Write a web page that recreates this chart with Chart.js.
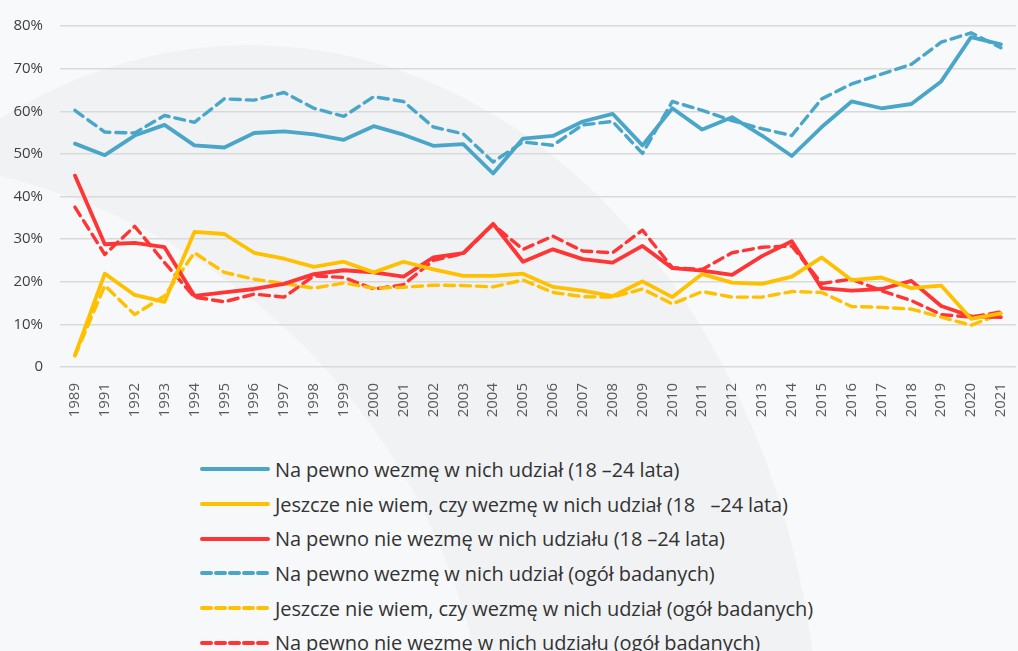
<!DOCTYPE html>
<html>
<head>
<meta charset="utf-8">
<script src="https://cdn.jsdelivr.net/npm/chart.js@4.4.1/dist/chart.umd.min.js"></script>
<style>
  html, body { margin: 0; padding: 0; overflow: hidden; }
  body { width: 1018px; height: 651px; background: #f8f9fa; position: relative; font-family: "Open Sans", sans-serif; }
  #bg { position: absolute; left: 0; top: 0; }
  #wrap { position: absolute; left: 0; top: 0; width: 1035px; height: 432px; }
  #legend { position: absolute; left: 200px; top: 452px; }
  .item { display: flex; align-items: center; height: 34.7px; }
  .item svg { margin-right: 5px; }
  .item span { font-size: 20px; color: #333; white-space: pre; letter-spacing: -0.1px; }
</style>
</head>
<body>
<svg id="bg" width="1018" height="651">
  <ellipse cx="250" cy="770" rx="570" ry="725" fill="#f1f2f4"/>
  <circle cx="-150" cy="800" r="642" fill="#f7f8f9"/>
</svg>
<div id="wrap"><canvas id="myChart"></canvas></div>
<div id="legend"></div>
<script>
const years = ['1989', '1991', '1992', '1993', '1994', '1995', '1996', '1997', '1998', '1999',
  '2000', '2001', '2002', '2003', '2004', '2005', '2006', '2007', '2008', '2009',
  '2010', '2011', '2012', '2013', '2014', '2015', '2016', '2017', '2018', '2019',
  '2020', '2021'];

// 18-24 lata
const youngYes = [52.4, 49.7, 54.3, 56.8, 52.0, 51.5, 54.9, 55.3, 54.6, 53.3,
  56.5, 54.5, 51.9, 52.3, 45.4, 53.6, 54.2, 57.6, 59.4, 52.0,
  60.7, 55.7, 58.6, 54.3, 49.5, 56.3, 62.3, 60.7, 61.7, 67.0,
  77.4, 75.7];
const youngMaybe = [2.8, 21.9, 16.9, 15.3, 31.7, 31.2, 26.8, 25.4, 23.5, 24.7,
  22.2, 24.7, 22.9, 21.4, 21.4, 21.9, 18.8, 17.9, 16.6, 20.1,
  16.4, 21.8, 19.8, 19.5, 21.2, 25.7, 20.4, 21.0, 18.5, 19.1,
  11.3, 12.6];
const youngNo = [44.9, 28.8, 29.1, 28.1, 16.7, 17.5, 18.3, 19.5, 21.8, 22.7,
  22.2, 21.2, 25.7, 26.7, 33.6, 24.7, 27.6, 25.3, 24.5, 28.4,
  23.2, 22.6, 21.6, 26.0, 29.5, 18.5, 17.9, 18.3, 20.2, 14.3,
  11.9, 11.7];

// ogół badanych
const allYes = [60.2, 55.1, 54.9, 59.0, 57.4, 62.9, 62.6, 64.4, 60.7, 58.8,
  63.4, 62.3, 56.3, 54.7, 48.1, 52.8, 52.0, 56.8, 57.6, 50.1,
  62.3, 60.2, 57.8, 55.9, 54.3, 62.9, 66.4, 68.7, 71.0, 76.2,
  78.4, 74.9];
const allMaybe = [2.6, 19.1, 12.3, 16.7, 26.8, 22.2, 20.6, 19.6, 18.5, 19.7,
  18.5, 18.7, 19.2, 19.1, 18.8, 20.4, 17.5, 16.5, 16.4, 18.3,
  14.8, 17.7, 16.4, 16.4, 17.7, 17.5, 14.2, 14.0, 13.6, 11.7,
  9.8, 12.5];
const allNo = [37.5, 26.4, 33.0, 24.5, 16.4, 15.3, 17.1, 16.4, 21.4, 21.0,
  18.3, 19.3, 25.0, 26.6, 33.4, 27.6, 30.7, 27.2, 26.8, 32.1,
  23.3, 22.9, 26.8, 28.1, 28.4, 19.6, 20.6, 17.9, 15.6, 12.3,
  11.7, 12.9];

const seriesLabels = [
  'Na pewno wezmę w nich udział (18 –24 lata)',
  'Jeszcze nie wiem, czy wezmę w nich udział (18   –24 lata)',
  'Na pewno nie wezmę w nich udziału (18 –24 lata)',
  'Na pewno wezmę w nich udział (ogół badanych)',
  'Jeszcze nie wiem, czy wezmę w nich udział (ogół badanych)',
  'Na pewno nie wezmę w nich udziału (ogół badanych)'
];

const blue = '#4aa6c9';
const yellow = '#ffc000';
const red = '#ff3535';

const makeSet = (label, data, color, dashed) => ({
  label,
  data,
  borderColor: color,
  backgroundColor: color,
  borderWidth: dashed ? 3.4 : 3.8,
  borderDash: dashed ? [10, 6] : [],
  borderCapStyle: 'round',
  borderJoinStyle: 'round',
  pointRadius: 0,
  tension: 0,
  fill: false,
});

const datasets = [
  makeSet(seriesLabels[0], youngYes, blue, false),
  makeSet(seriesLabels[1], youngMaybe, yellow, false),
  makeSet(seriesLabels[2], youngNo, red, false),
  makeSet(seriesLabels[3], allYes, blue, true),
  makeSet(seriesLabels[4], allMaybe, yellow, true),
  makeSet(seriesLabels[5], allNo, red, true),
];

new Chart(document.getElementById('myChart'), {
  type: 'line',
  data: { labels: years, datasets },
  options: {
    responsive: true,
    maintainAspectRatio: false,
    animation: false,
    layout: { padding: { top: 23, right: 5, left: 0, bottom: 0 } },
    plugins: { legend: { display: false }, tooltip: { enabled: false } },
    scales: {
      x: {
        offset: true,
        grid: { display: false, drawTicks: false },
        border: { display: false },
        ticks: {
          minRotation: 90, maxRotation: 90, autoSkip: false, padding: 16,
          color: '#595959', font: { family: 'Open Sans', size: 15 }
        },
        afterFit: (scale) => { scale.height = 65; }
      },
      y: {
        min: 0, max: 80,
        grid: { color: '#d9d9d9', lineWidth: 1.5, drawTicks: false },
        border: { display: false },
        ticks: {
          stepSize: 10, padding: 17,
          color: '#404040', font: { family: 'Open Sans', size: 15 },
          callback: (v) => v === 0 ? '0' : v + '%'
        },
        afterFit: (scale) => { scale.width = 60; }
      }
    }
  }
});

// legend, one item per row
const legend = document.getElementById('legend');
datasets.forEach(ds => {
  const row = document.createElement('div');
  row.className = 'item';
  const dash = ds.borderDash.length ? 'stroke-dasharray="9 5"' : '';
  row.innerHTML = `<svg width="70" height="10"><line x1="2" y1="5" x2="68" y2="5" stroke="${ds.borderColor}" stroke-width="4" stroke-linecap="round" ${dash}/></svg>`;
  const txt = document.createElement('span');
  txt.textContent = ds.label;
  row.appendChild(txt);
  legend.appendChild(row);
});
</script>
</body>
</html>
